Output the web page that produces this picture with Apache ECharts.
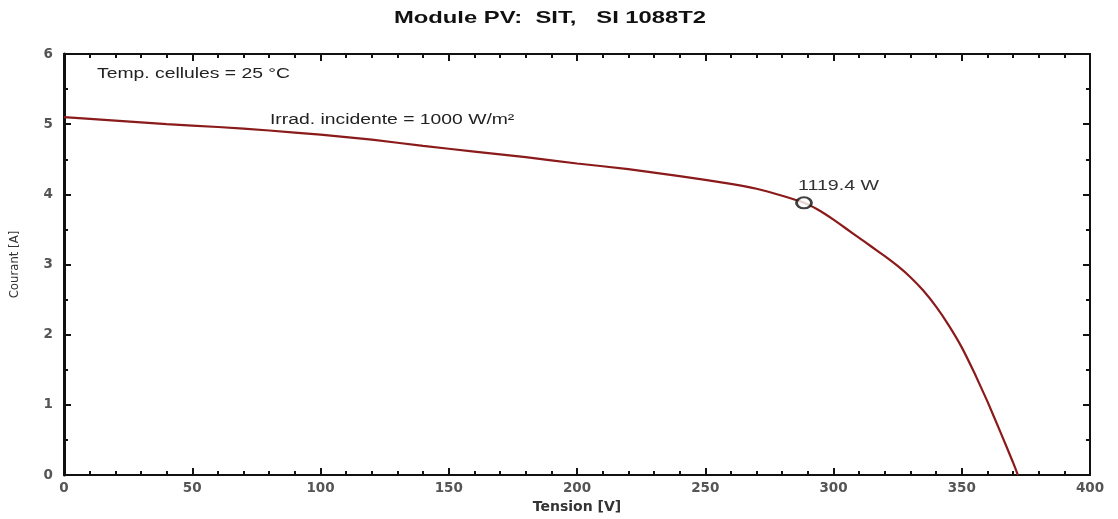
<!DOCTYPE html>
<html><head><meta charset="utf-8">
<script src="https://cdn.jsdelivr.net/npm/echarts@6/dist/echarts.min.js"></script>
<style>html,body{margin:0;padding:0;background:#fff}#c{width:1118px;height:519px}</style>
</head><body><div id="c"></div>
<script>
const voltage = [0, 20, 40, 60, 80, 100, 120, 140, 160, 180, 200, 220, 240, 260, 270, 280, 288.5, 295, 300, 305, 310, 315, 320, 325, 330, 335, 340, 345, 350, 355, 360, 365, 370, 371.9];
const current = [5.10, 5.05, 5.00, 4.96, 4.91, 4.85, 4.78, 4.69, 4.61, 4.53, 4.44, 4.36, 4.26, 4.15, 4.08, 3.98, 3.88, 3.76, 3.64, 3.51, 3.38, 3.25, 3.12, 2.98, 2.82, 2.63, 2.40, 2.13, 1.82, 1.45, 1.05, 0.62, 0.18, 0];
const mppVoltage = [288.5];
const mppCurrent = [3.88];
const mppLabel = ['1119.4 W'];
const titleText = 'Module PV:  SIT,   SI 1088T2';
const xName = 'Tension [V]';
const yName = 'Courant [A]';
const notes = ['Temp. cellules = 25 °C', 'Irrad. incidente = 1000 W/m²'];

const chart = echarts.init(document.getElementById('c'));
const font = 'Liberation Sans, Arial, sans-serif';
const wide = 'DejaVu Sans, Verdana, sans-serif';
const axisBase = {
  type: 'value', min: 0,
  axisLine: {show: true, onZero: false, lineStyle: {color: '#111', width: 2}},
  axisTick: {show: true, inside: true, length: 7, lineStyle: {color: '#111', width: 2}},
  minorTick: {show: true, length: 4, lineStyle: {color: '#111', width: 2}},
  splitLine: {show: false},
  axisLabel: {color: '#555', fontFamily: wide, fontSize: 13.5, fontWeight: 'bold'}
};
chart.setOption({
  animation: false,
  grid: {left: 62, right: 28, top: 54, bottom: 37},
  xAxis: [
    Object.assign({}, axisBase, {position: 'bottom', max: 400, interval: 50, minorTick: Object.assign({}, axisBase.minorTick, {splitNumber: 5}),
      name: xName, nameLocation: 'middle', nameGap: 24,
      nameTextStyle: {fontFamily: wide, fontSize: 14, fontWeight: 'bold', color: '#333'},
      axisLabel: Object.assign({}, axisBase.axisLabel, {margin: 6})}),
    Object.assign({}, axisBase, {position: 'top', max: 400, interval: 50, minorTick: Object.assign({}, axisBase.minorTick, {splitNumber: 5}),
      axisLabel: {show: false}})
  ],
  yAxis: [
    Object.assign({}, axisBase, {position: 'left', max: 6, interval: 1, minorTick: Object.assign({}, axisBase.minorTick, {splitNumber: 2}),
      axisLine: {show: true, onZero: false, lineStyle: {color: '#111', width: 3}},
      name: yName, nameLocation: 'middle', nameGap: 43, nameRotate: 90,
      nameTextStyle: {fontFamily: 'Liberation Sans Narrow, DejaVu Sans Condensed, sans-serif', fontSize: 13, color: '#333'},
      axisLabel: Object.assign({}, axisBase.axisLabel, {margin: 11})}),
    Object.assign({}, axisBase, {position: 'right', max: 6, interval: 1, minorTick: Object.assign({}, axisBase.minorTick, {splitNumber: 2}),
      axisLabel: {show: false}})
  ],
  series: [
    {type: 'line', xAxisIndex: 0, yAxisIndex: 0, data: voltage.map((v, i) => [v, current[i]]),
      showSymbol: false, smooth: 0.12, lineStyle: {color: '#8b1a1a', width: 2.2}, z: 3},
    {type: 'scatter', xAxisIndex: 0, yAxisIndex: 0, data: mppVoltage.map((v, i) => [v, mppCurrent[i]]),
      symbol: 'circle', symbolSize: [15, 11],
      itemStyle: {color: '#fff', borderColor: '#111', borderWidth: 2.5}, z: 5}
  ]
});

const mpp = chart.convertToPixel({xAxisIndex: 0, yAxisIndex: 0}, [mppVoltage[0], mppCurrent[0]]);
const txt = (text, x, y, size, weight, align, sx, color) => ({
  type: 'text', x: x, y: y, scaleX: sx, silent: true,
  style: {text: text, font: weight + ' ' + size + 'px ' + font, fill: color, textAlign: align, textVerticalAlign: 'middle'}
});
chart.setOption({
  graphic: [
    txt(titleText, 550, 18, 17, 'bold', 'center', 1.4, '#111'),
    txt(notes[0], 97, 74, 14, 'normal', 'left', 1.38, '#222'),
    txt(notes[1], 270, 120, 14, 'normal', 'left', 1.38, '#222'),
    txt(mppLabel[0], mpp[0] - 6, mpp[1] - 17, 14, 'normal', 'left', 1.4, '#333')
  ]
});
</script></body></html>
